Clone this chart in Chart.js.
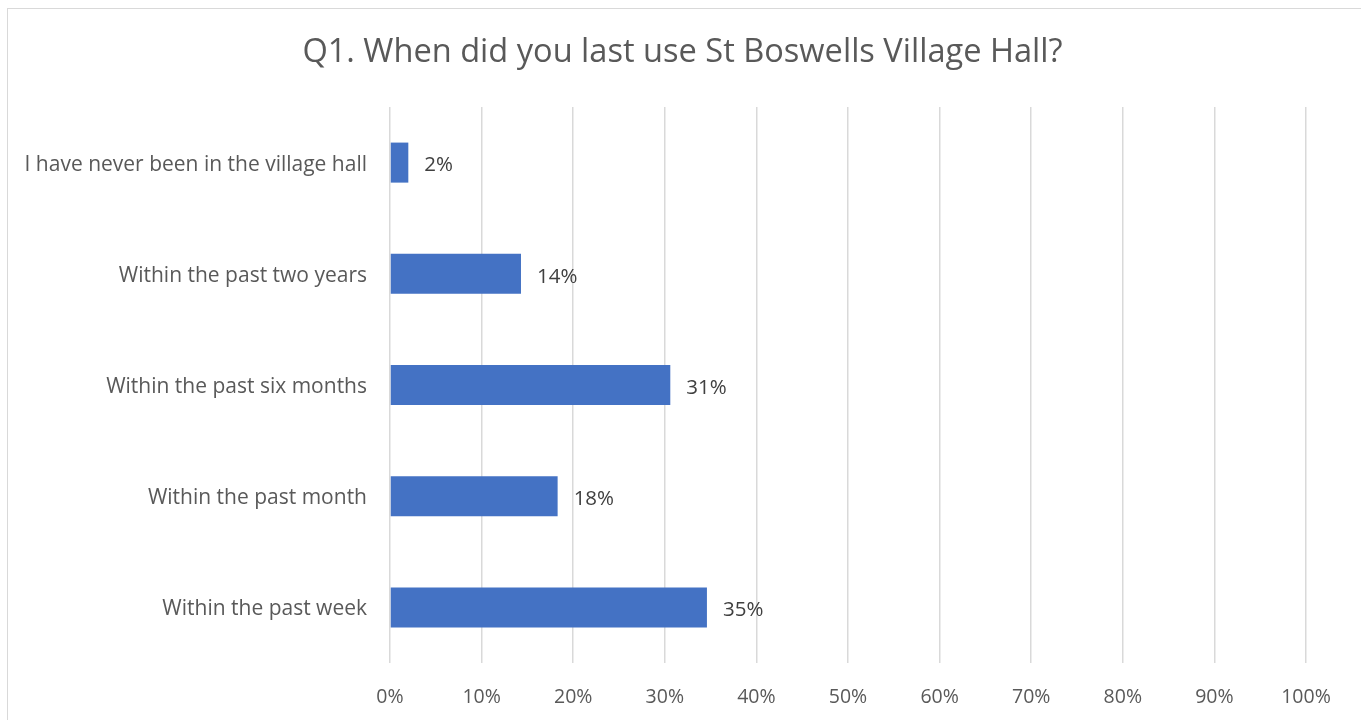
<!DOCTYPE html>
<html>
<head>
<meta charset="utf-8">
<script src="https://cdn.jsdelivr.net/npm/chart.js@4/dist/chart.umd.min.js"></script>
<style>
  body { margin: 0; background: #fff; overflow: hidden; }
  #frame { position: absolute; left: 7px; top: 8px; width: 1360px; height: 720px; border: 1.5px solid #d9d9d9; pointer-events: none; }
  #wrap { position: absolute; left: 0; top: 0; width: 1361px; height: 720px; }
</style>
</head>
<body>
<div id="wrap"><canvas id="myChart" width="1361" height="720"></canvas></div>
<div id="frame"></div>
<script>
const titleText = 'Q1. When did you last use St Boswells Village Hall?';
const categories = [
    'I have never been in the village hall',
    'Within the past two years',
    'Within the past six months',
    'Within the past month',
    'Within the past week'
];
const percentValues = [2.0, 14.3, 30.6, 18.3, 34.6];
const tickValues = [0, 10, 20, 30, 40, 50, 60, 70, 80, 90, 100];

const fontFamily = '"Open Sans", sans-serif';
const textColor = '#595959';

// title centred on the whole canvas (built-in title follows the padding)
const centredTitle = {
    id: 'centredTitle',
    afterDraw(chart) {
        const ctx = chart.ctx;
        ctx.save();
        ctx.font = '32.6px ' + fontFamily;
        ctx.fillStyle = textColor;
        ctx.textAlign = 'center';
        ctx.textBaseline = 'alphabetic';
        ctx.fillText(titleText, chart.width / 2 + 2, 62);
        ctx.restore();
    }
};

// value labels at the end of each bar
const barLabels = {
    id: 'barLabels',
    afterDatasetsDraw(chart) {
        const ctx = chart.ctx;
        const meta = chart.getDatasetMeta(0);
        ctx.save();
        ctx.font = '20.5px ' + fontFamily;
        ctx.fillStyle = '#404040';
        ctx.textAlign = 'left';
        ctx.textBaseline = 'middle';
        meta.data.forEach((bar, i) => {
            ctx.fillText(Math.round(percentValues[i]) + '%', bar.x + 16, bar.y + 3);
        });
        ctx.restore();
    }
};

const ctx = document.getElementById('myChart');

const chart = new Chart(ctx, {
    type: 'bar',
    data: {
        labels: categories,
        datasets: [{
            data: percentValues,
            backgroundColor: '#4472c4',
            borderWidth: 0,
            barPercentage: 0.36,
            categoryPercentage: 1
        }]
    },
    plugins: [barLabels, centredTitle],
    options: {
        indexAxis: 'y',
        responsive: false,
        animation: false,
        layout: { padding: { left: 0, right: 55, top: 107, bottom: 0 } },
        plugins: {
            legend: { display: false },
            tooltip: { enabled: false },
            title: { display: false }
        },
        scales: {
            x: {
                min: 0,
                max: 100,
                afterBuildTicks(scale) {
                    scale.ticks = tickValues.map(v => ({ value: v }));
                },
                afterFit(scale) { scale.height = 57; },
                grid: { color: '#d9d9d9', lineWidth: 1.5, drawTicks: false },
                border: { display: false },
                ticks: {
                    color: textColor,
                    padding: 23,
                    maxRotation: 0,
                    font: { family: fontFamily, size: 19.5 },
                    callback: v => v + '%'
                }
            },
            y: {
                afterFit(scale) { scale.width = 390; },
                grid: { display: false, drawTicks: false },
                border: { display: false },
                ticks: {
                    color: textColor,
                    padding: 23,
                    labelOffset: 2,
                    font: { family: fontFamily, size: 21 }
                }
            }
        }
    }
});
</script>
</body>
</html>
